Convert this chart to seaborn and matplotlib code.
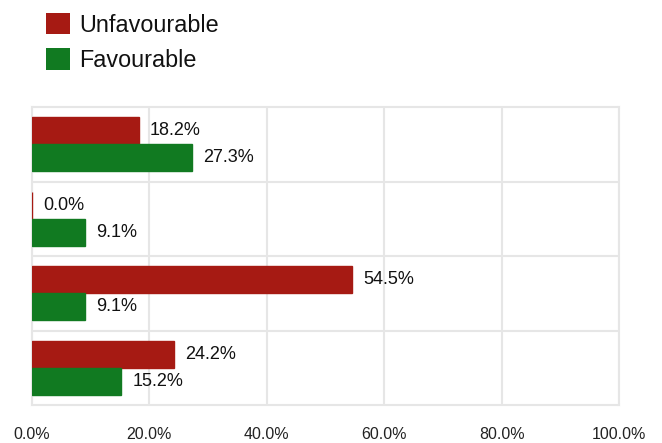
import matplotlib
matplotlib.use("Agg")
import matplotlib.pyplot as plt
from matplotlib.patches import Patch
from matplotlib.ticker import FixedLocator
import seaborn as sns
import pandas as pd

categories = ["Q1", "Q2", "Q3", "Q4"]
series_names = ["Unfavourable", "Favourable"]
unfavourable = [18.2, 0.0, 54.5, 24.2]
favourable = [27.3, 9.1, 9.1, 15.2]
x_ticks = [0, 20, 40, 60, 80, 100]
x_tick_labels = ["0.0%", "20.0%", "40.0%", "60.0%", "80.0%", "100.0%"]

colors = {"Unfavourable": "#a61a13", "Favourable": "#117a21"}
grid_color = "#e6e6e6"

df = pd.DataFrame({
    "category": categories * 2,
    "series": [series_names[0]] * 4 + [series_names[1]] * 4,
    "value": unfavourable + favourable,
})

sns.set_style("white")
plt.rcParams["font.family"] = ["Liberation Sans", "DejaVu Sans"]

fig = plt.figure(figsize=(6.62, 4.43), dpi=100)
ax = fig.add_axes([32 / 662, 1 - 405 / 443, (619 - 32) / 662, (405 - 107) / 443])

sns.barplot(data=df, x="value", y="category", hue="series", orient="h",
            palette=colors, width=0.72, saturation=1, ax=ax, legend=False,
            errorbar=None)

for p in ax.patches:
    p.set_edgecolor(p.get_facecolor())
    p.set_linewidth(1.0)
    p.set_zorder(3)

for cont in ax.containers:
    ax.bar_label(cont, labels=[f"{v:.1f}%" for v in cont.datavalues],
                 padding=8, fontsize=13, color="#111111")

ax.set_xlim(0, 100)
ax.set_ylim(3.5, -0.5)
ax.set_xticks(x_ticks)
ax.set_xticklabels(x_tick_labels)
ax.set_yticks([])
ax.yaxis.set_minor_locator(FixedLocator([0.5, 1.5, 2.5]))
ax.set_xlabel("")
ax.set_ylabel("")
ax.grid(axis="x", color=grid_color, linewidth=1.5)
ax.grid(axis="y", which="minor", color=grid_color, linewidth=1.5)
ax.set_axisbelow(True)
ax.tick_params(axis="x", direction="out", length=8, width=1.5, color=grid_color,
               labelsize=11.5, labelcolor="#222222", pad=8)
ax.tick_params(axis="y", which="both", length=0)
for s in ax.spines.values():
    s.set_color(grid_color)
    s.set_linewidth(1.5)

handles = [Patch(facecolor=colors[n], edgecolor="none", label=n) for n in series_names]
fig.legend(handles=handles, loc="upper left", bbox_to_anchor=(46 / 662, 1 - 13 / 443),
           frameon=False, fontsize=16.8, handlelength=1.03, handleheight=1.03,
           handletextpad=0.4, labelspacing=0.5, borderpad=0, borderaxespad=0,
           labelcolor="#111111")

fig.savefig("out.png", dpi=100)
